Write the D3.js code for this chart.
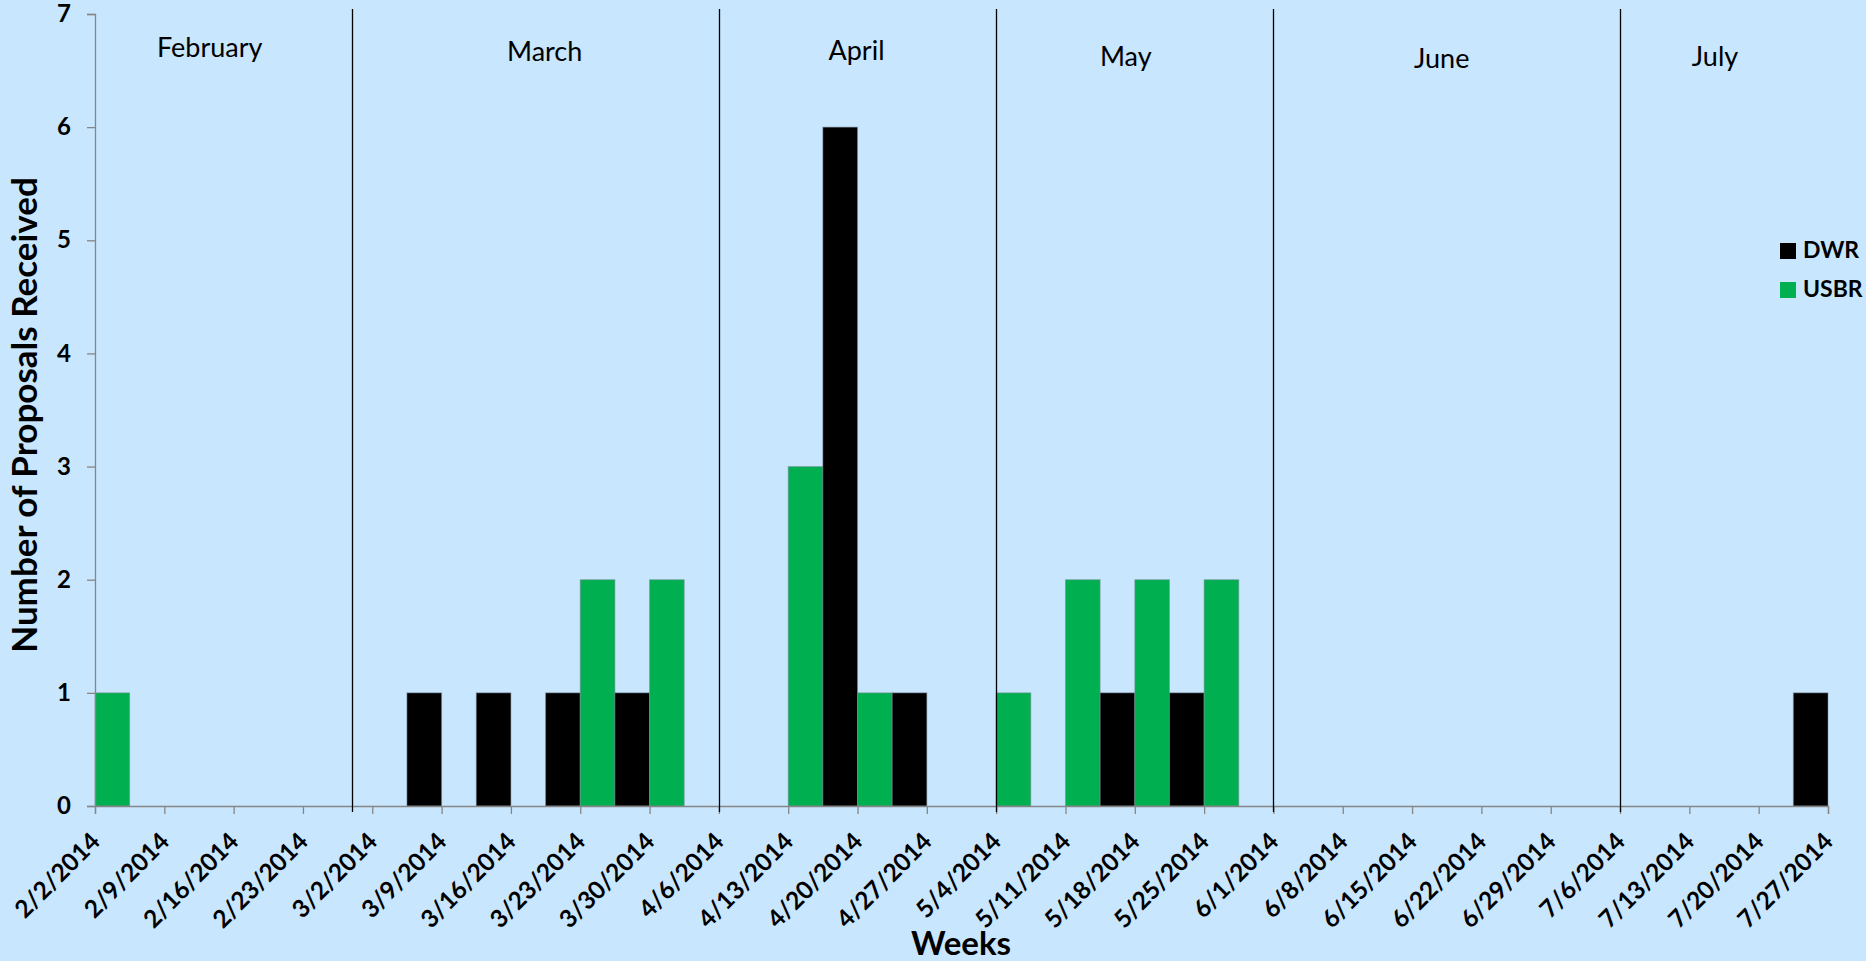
<!DOCTYPE html>
<html>
<head>
<meta charset="utf-8">
<script src="https://cdn.jsdelivr.net/npm/d3@7/dist/d3.min.js"></script>
<style>
  html, body { margin: 0; padding: 0; background: #c8e6fd; }
  svg { display: block; }
  text { font-family: Lato, "Open Sans", sans-serif; fill: #000; }
</style>
</head>
<body>
<svg id="chart" width="1866" height="961"></svg>
<script>
// Weekly proposal counts, one entry per week (week start dates)
const weekStarts = ["2/2/2014","2/9/2014","2/16/2014","2/23/2014","3/2/2014","3/9/2014","3/16/2014",
  "3/23/2014","3/30/2014","4/6/2014","4/13/2014","4/20/2014","4/27/2014","5/4/2014","5/11/2014",
  "5/18/2014","5/25/2014","6/1/2014","6/8/2014","6/15/2014","6/22/2014","6/29/2014","7/6/2014",
  "7/13/2014","7/20/2014"];
const usbr = [1,0,0,0,0,0,0,2,2,0,3,1,0,1,2,2,2,0,0,0,0,0,0,0,0];
const dwr  = [0,0,0,0,1,1,1,1,0,0,6,1,0,0,1,1,0,0,0,0,0,0,0,0,1];

// Axis tick labels (week boundaries)
const tickLabels = ["2/2/2014","2/9/2014","2/16/2014","2/23/2014","3/2/2014","3/9/2014","3/16/2014",
  "3/23/2014","3/30/2014","4/6/2014","4/13/2014","4/20/2014","4/27/2014","5/4/2014","5/11/2014",
  "5/18/2014","5/25/2014","6/1/2014","6/8/2014","6/15/2014","6/22/2014","6/29/2014","7/6/2014",
  "7/13/2014","7/20/2014","7/27/2014"];
const yTicks = [0,1,2,3,4,5,6,7];

// Month separators and month names
const monthDividers = ["2/28/2014","4/6/2014","5/4/2014","6/1/2014","7/6/2014"];
const monthNames = ["February","March","April","May","June","July"];

const seriesNames = ["DWR","USBR"];
const seriesColors = {DWR: "#000000", USBR: "#00b050"};

// Layout
const W = 1866, H = 961;
const plot = {left: 95, right: 1828, top: 14, bottom: 806};
const monthLabelNudge = [-14, 9, -1, -9, -5, -9];
const monthLabelBaseline = [57, 61, 60, 66, 68, 66];

const parse = s => { const [m, d, y] = s.split("/").map(Number); return new Date(Date.UTC(y, m - 1, d)); };

const svg = d3.select("#chart");

const x = d3.scaleUtc()
  .domain([parse(tickLabels[0]), parse(tickLabels[tickLabels.length - 1])])
  .range([plot.left, plot.right]);
const y = d3.scaleLinear().domain([0, 7]).range([plot.bottom, plot.top]);

// Bars: USBR in the first half of each week, DWR in the second half
const rows = weekStarts.map((w, i) => ({start: parse(w), USBR: usbr[i], DWR: dwr[i]}));
const half = d3.scaleBand().domain(["USBR", "DWR"]).range([0, 1]);

const bars = svg.append("g");
rows.forEach(r => {
  const x0 = x(r.start), x1 = x(d3.utcDay.offset(r.start, 7));
  ["USBR", "DWR"].forEach(k => {
    if (r[k] <= 0) return;
    const bx = x0 + half(k) * (x1 - x0), bw = half.bandwidth() * (x1 - x0);
    bars.append("rect")
      .attr("x", bx).attr("width", bw)
      .attr("y", y(r[k])).attr("height", y(0) - y(r[k]))
      .attr("fill", seriesColors[k])
      .attr("stroke", "#7d8c99").attr("stroke-opacity", 0.55).attr("stroke-width", 1);
  });
});

// Y axis
const yAxis = svg.append("g")
  .attr("transform", `translate(${plot.left},0)`)
  .call(d3.axisLeft(y).tickValues(yTicks).tickSize(8).tickPadding(16).tickFormat(d3.format("d")));
yAxis.select(".domain").attr("stroke", "#868686").attr("stroke-width", 1.3);
yAxis.selectAll(".tick line").attr("stroke", "#868686").attr("stroke-width", 1.3);
yAxis.selectAll(".tick text")
  .style("font-family", "Lato, sans-serif").style("font-size", "24px").style("font-weight", "bold")
  .attr("fill", "#000");

// X axis
const xAxis = svg.append("g")
  .attr("transform", `translate(0,${plot.bottom})`)
  .call(d3.axisBottom(x).tickValues(tickLabels.map(parse)).tickSize(8)
    .tickFormat((d, i) => tickLabels[i]));
xAxis.select(".domain").attr("stroke", "#868686").attr("stroke-width", 1.3);
xAxis.selectAll(".tick line").attr("stroke", "#868686").attr("stroke-width", 1.3);
xAxis.selectAll(".tick text")
  .style("font-family", "Lato, sans-serif").style("font-size", "24.5px").style("font-weight", "bold")
  .attr("fill", "#000")
  .attr("text-anchor", "end")
  .attr("dy", null).attr("y", null)
  .attr("transform", "translate(6,37) rotate(-45)");

// Month separators
svg.append("g").selectAll("line")
  .data(monthDividers.map(parse))
  .join("line")
  .attr("x1", d => Math.round(x(d)) + 0.5).attr("x2", d => Math.round(x(d)) + 0.5)
  .attr("y1", 9).attr("y2", plot.bottom + 6)
  .attr("stroke", "#000").attr("stroke-width", 1.3);

// Month names centred in their spans
const bounds = [x.range()[0], ...monthDividers.map(d => x(parse(d))), x.range()[1]];
svg.append("g").selectAll("text")
  .data(monthNames)
  .join("text")
  .attr("x", (d, i) => (bounds[i] + bounds[i + 1]) / 2 + monthLabelNudge[i])
  .attr("y", (d, i) => monthLabelBaseline[i])
  .attr("text-anchor", "middle")
  .style("font-size", "27px")
  .text(d => d);

// Axis titles
svg.append("text")
  .attr("transform", "translate(37,415) rotate(-90)")
  .attr("text-anchor", "middle")
  .style("font-size", "35px").style("font-weight", "bold")
  .text("Number of Proposals Received");
svg.append("text")
  .attr("x", 961).attr("y", 955)
  .attr("text-anchor", "middle")
  .style("font-size", "33px").style("font-weight", "bold")
  .text("Weeks");

// Legend
const legend = svg.append("g").attr("transform", "translate(1780,243)");
seriesNames.forEach((n, i) => {
  const g = legend.append("g").attr("transform", `translate(0,${i * 39})`);
  g.append("rect").attr("width", 16).attr("height", 16).attr("fill", seriesColors[n]);
  g.append("text").attr("x", 23).attr("y", 15)
    .style("font-size", "23px").style("font-weight", "bold").text(n);
});
</script>
</body>
</html>
